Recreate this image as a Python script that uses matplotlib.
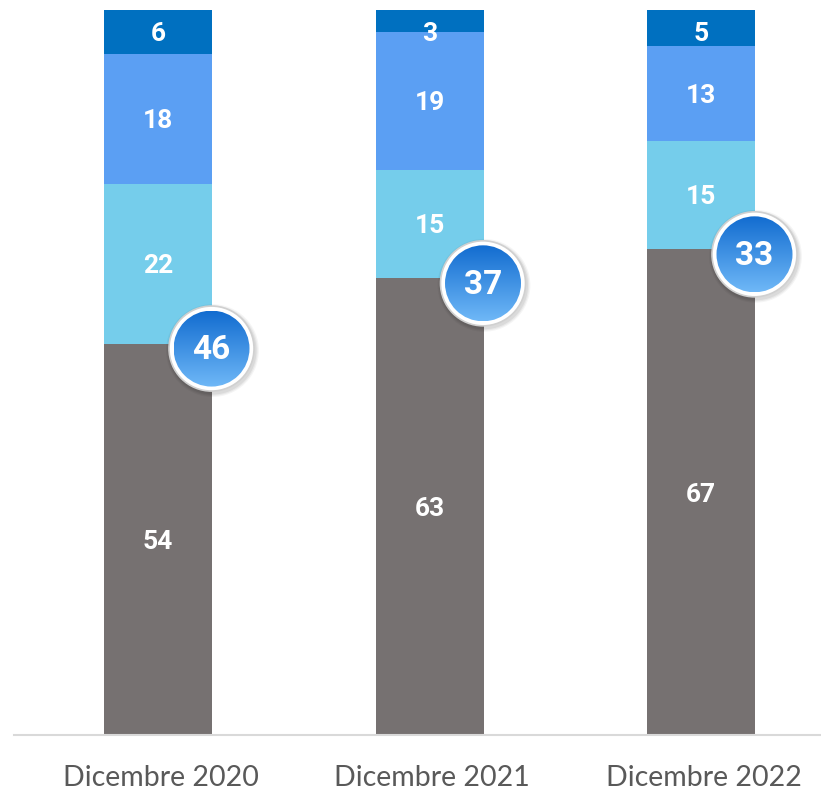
import numpy as np
import matplotlib
matplotlib.use("Agg")
import matplotlib.pyplot as plt
from matplotlib.patches import Ellipse

categories = ["Dicembre 2020", "Dicembre 2021", "Dicembre 2022"]
grey_vals = [54, 63, 67]
cyan_vals = [22, 15, 15]
blue_vals = [18, 19, 13]
dark_vals = [6, 3, 5]
circle_vals = [46, 37, 33]

colors = ["#767171", "#75CDEB", "#5B9FF3", "#0070C0"]
series = [grey_vals, cyan_vals, blue_vals, dark_vals]

BOLD_FONT = ["Roboto", "Open Sans", "DejaVu Sans"]

W, H = 821, 796
fig = plt.figure(figsize=(W / 100, H / 100), dpi=100)
ax_left, ax_right, ax_bottom, ax_top = 14, 821, 735, 10
ax = fig.add_axes([ax_left / W, (H - ax_bottom) / H,
                   (ax_right - ax_left) / W, (ax_bottom - ax_top) / H])

px_per_x = 271.5
px_per_y = (ax_bottom - ax_top) / 100.0
x0 = -(158 - ax_left) / px_per_x
x1 = x0 + (ax_right - ax_left) / px_per_x
ax.set_xlim(x0, x1)
ax.set_ylim(0, 100)

x = np.arange(len(categories))
bar_w = 108 / px_per_x
label_max_y = 100 - 22 / px_per_y  # keep labels inside the plot area
bottom = np.zeros(len(categories))
for vals, col in zip(series, colors):
    vals = np.array(vals, dtype=float)
    ax.bar(x, vals, bar_w, bottom=bottom, color=col, zorder=2)
    for xi, b, v in zip(x, bottom, vals):
        ly = min(b + v / 2, label_max_y) - 2.5 / px_per_y
        ax.text(xi, ly, f"{int(v)}", ha="center", va="center",
                color="white", fontsize=19, fontweight="bold",
                family=BOLD_FONT, zorder=3)
    bottom += vals

for s in ax.spines.values():
    s.set_visible(False)
ax.set_yticks([])
ax.set_xticks([])
ax.axhline(0, color="#D9D9D9", lw=1.5, zorder=4, clip_on=False)

for xi, cat in zip(x, categories):
    ax.text(xi + 0.01, -6.0, cat, ha="center", va="center",
            fontsize=20.5, color="#595959", family="Lato")

# Badges showing the sum of the upper segments
r_out = 42.5
r_in = 38.0
grad = np.linspace(0, 1, 256).reshape(-1, 1)
top_c = np.array([0x12, 0x6C, 0xD0]) / 255
bot_c = np.array([0x6F, 0xB8, 0xF7]) / 255
img = top_c[None, None, :] * (1 - grad[..., None]) + bot_c[None, None, :] * grad[..., None]
img = np.repeat(img, 2, axis=1)

for xi, g, cv in zip(x, grey_vals, circle_vals):
    cx = xi + bar_w / 2 - 0.5 / px_per_x
    cy = g - 0.7
    # soft shadow
    for k, a in enumerate([0.06, 0.05, 0.04]):
        rr = r_out + 1.5 + k * 1.2
        ax.add_patch(Ellipse((cx + 1 / px_per_x, cy - 2 / px_per_y),
                             2 * rr / px_per_x, 2 * rr / px_per_y,
                             facecolor="black", edgecolor="none", alpha=a, zorder=5))
    ax.add_patch(Ellipse((cx, cy), 2 * r_out / px_per_x, 2 * r_out / px_per_y,
                         facecolor="white", edgecolor="#D0D0D0", lw=1.2, zorder=6))
    inner = Ellipse((cx, cy), 2 * r_in / px_per_x, 2 * r_in / px_per_y,
                    facecolor="none", edgecolor="none", zorder=7)
    ax.add_patch(inner)
    im = ax.imshow(img, extent=[cx - r_in / px_per_x, cx + r_in / px_per_x,
                                cy - r_in / px_per_y, cy + r_in / px_per_y],
                   aspect="auto", origin="upper", zorder=7, interpolation="bilinear")
    im.set_clip_path(inner)
    ax.text(cx, cy - 1.5 / px_per_y, f"{cv}", ha="center", va="center", color="white",
            fontsize=24, fontweight="bold", family=BOLD_FONT, zorder=8)

ax.set_xlim(x0, x1)
ax.set_ylim(0, 100)
fig.savefig("out.png", dpi=100, facecolor="white")
